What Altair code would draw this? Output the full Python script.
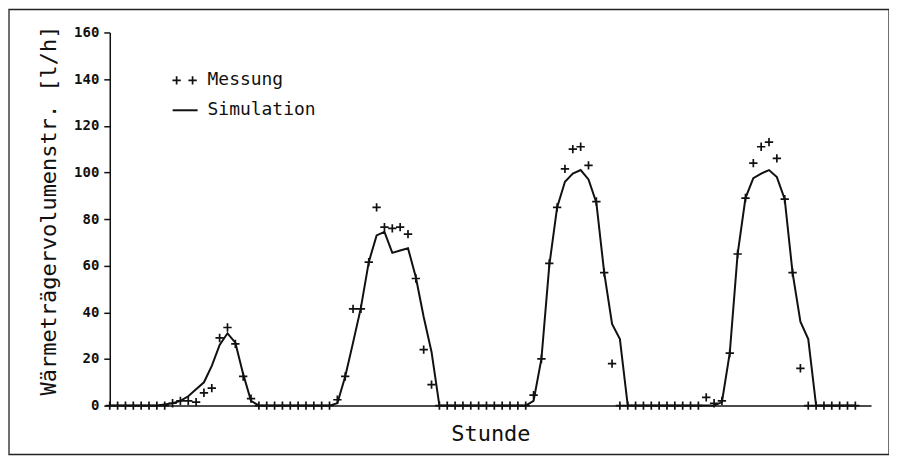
import altair as alt
import pandas as pd

# hour index (4 days, hourly)
hours = list(range(96))

# measured values (Messung) [l/h]
messung = (
    [0] * 8
    + [1, 2, 2, 1.5]
    + [5.5, 7.5, 29, 33.5, 26.5, 12.5, 3]
    + [0] * 10
    + [2.5, 12.5, 41.5, 41.5, 61.5, 85, 76.5, 76, 76.5, 73.5, 54.5, 24, 9]
    + [0] * 12
    + [4.5, 20, 61, 85, 101.5, 110, 111, 103, 87.5, 57, 18]
    + [0] * 11
    + [3.5, 1, 2, 22.5, 65, 89, 104, 111, 113, 106, 88.5, 57, 16]
    + [0] * 7
)

# simulated values (Simulation) [l/h]
simulation = (
    [0] * 7
    + [0.5, 1, 2, 4, 7, 10, 17, 26, 31, 27, 13.5, 2]
    + [0] * 10
    + [1, 12.5, 27, 42, 61.5, 73, 74.5, 65.5, 66.5, 67.5, 55, 38, 23, 0]
    + [0] * 11
    + [2, 20, 60, 85, 96, 99.5, 101, 97, 87, 57, 35, 28.5, 0]
    + [0] * 11
    + [1.5, 22.6, 65, 89, 97.5, 99.5, 101, 98, 88.5, 57, 36, 28.5, 0]
    + [0] * 5
)

y_ticks = [0, 20, 40, 60, 80, 100, 120, 140, 160]

df = pd.DataFrame({"Stunde": hours, "Messung": messung, "Simulation": simulation})

FONT = "DejaVu Sans Mono"
INK = "#111111"
PLUS = "M-1,0H1M0,-1V1"

xscale = alt.Scale(domain=[0, 97], nice=False, zero=False)
yscale = alt.Scale(domain=[0, 160], nice=False)

xaxis = alt.Axis(
    title="Stunde", labels=False, ticks=False, grid=False,
    domainColor=INK, domainWidth=1.5,
    titleFont=FONT, titleFontSize=22, titleFontWeight="normal",
    titleColor=INK, titlePadding=18,
)
yaxis = alt.Axis(
    title="Wärmeträgervolumenstr. [l/h]", values=y_ticks, grid=False,
    domainColor=INK, domainWidth=1.5, tickColor=INK, tickWidth=1.5, tickSize=6,
    labelFont=FONT, labelFontSize=14, labelFontWeight="bold", labelColor=INK,
    labelPadding=5,
    titleFont=FONT, titleFontSize=22, titleFontWeight="normal",
    titleColor=INK, titlePadding=13, titleY=178,
)

base = alt.Chart(df)

line = base.mark_line(color=INK, strokeWidth=2).encode(
    x=alt.X("Stunde:Q", scale=xscale, axis=xaxis),
    y=alt.Y("Simulation:Q", scale=yscale, axis=yaxis),
)

points = base.mark_point(
    shape=PLUS, size=70, color=INK, strokeWidth=1.7, filled=False, opacity=1
).encode(
    x=alt.X("Stunde:Q", scale=xscale, axis=xaxis),
    y=alt.Y("Messung:Q", scale=yscale, axis=yaxis),
)

one = alt.Data(values=[{"k": 1}])

frame = alt.Chart(one).mark_rect(
    fillOpacity=0, stroke="#222222", strokeWidth=1.3
).encode(
    x=alt.value(-101), x2=alt.value(781), y=alt.value(-23), y2=alt.value(423)
)

leg_plus1 = alt.Chart(one).mark_point(
    shape=PLUS, size=70, color=INK, strokeWidth=1.7, filled=False, opacity=1
).encode(x=alt.value(67), y=alt.value(48))
leg_plus2 = alt.Chart(one).mark_point(
    shape=PLUS, size=70, color=INK, strokeWidth=1.7, filled=False, opacity=1
).encode(x=alt.value(83), y=alt.value(48))
leg_line = alt.Chart(one).mark_rule(color=INK, strokeWidth=2).encode(
    x=alt.value(63), x2=alt.value(88), y=alt.value(78)
)
leg_t1 = alt.Chart(one).mark_text(
    text="Messung", align="left", baseline="middle", font=FONT, fontSize=18, color=INK
).encode(x=alt.value(98), y=alt.value(48))
leg_t2 = alt.Chart(one).mark_text(
    text="Simulation", align="left", baseline="middle", font=FONT, fontSize=18, color=INK
).encode(x=alt.value(98), y=alt.value(78))

chart = alt.layer(
    frame, line, points, leg_plus1, leg_plus2, leg_line, leg_t1, leg_t2
).properties(
    width=763, height=374,
    padding={"left": 102, "top": 24, "right": 18, "bottom": 50},
    autosize=alt.AutoSizeParams(type="none"),
    background="white",
).configure_view(strokeWidth=0)

chart.save("out.html", embed_options={"renderer": "svg", "actions": False})
